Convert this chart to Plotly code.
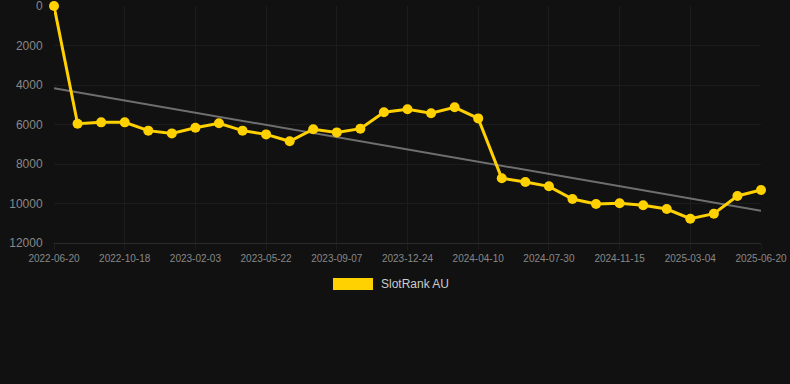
import numpy as np
import plotly.graph_objects as go

dates = [
    "2022-06-20", "2022-08-01", "2022-09-09", "2022-10-18", "2022-11-23", "2022-12-29",
    "2023-02-03", "2023-03-11", "2023-04-16", "2023-05-22", "2023-06-27", "2023-08-02",
    "2023-09-07", "2023-10-13", "2023-11-18", "2023-12-24", "2024-01-29", "2024-03-05",
    "2024-04-10", "2024-05-17", "2024-06-23", "2024-07-30", "2024-09-04", "2024-10-10",
    "2024-11-15", "2024-12-21", "2025-01-27", "2025-03-04", "2025-04-09", "2025-05-15",
    "2025-06-20",
]
rank = [
    0, 5960, 5890, 5890, 6310, 6450, 6160, 5940, 6310, 6500, 6850, 6240, 6400, 6210,
    5380, 5230, 5430, 5130, 5690, 8725, 8910, 9130, 9770, 10025, 9990, 10090, 10280,
    10770, 10515, 9620, 9315,
]
tick_labels = dates[::3]
y_ticks = [0, 2000, 4000, 6000, 8000, 10000, 12000]
y_tick_text = ["0", "2000", "4000", "6000", "8000", "10000", "12000"]
series_name = "SlotRank AU"

idx = np.arange(len(rank))
slope, intercept = np.polyfit(idx, rank, 1)
trend = slope * idx + intercept

yellow = "#FFD100"
fig = go.Figure()
fig.add_trace(go.Scatter(
    x=dates, y=trend, mode="lines",
    line=dict(color="#6f6f6f", width=2), showlegend=False, hoverinfo="skip",
))
fig.add_trace(go.Scatter(
    x=dates, y=rank, mode="lines+markers", name=series_name,
    line=dict(color=yellow, width=3), marker=dict(color=yellow, size=10),
    showlegend=False, cliponaxis=False,
))

L, R, T, B = 54, 761, 6, 243
W, H = 790, 384

def px(x):
    return (x - L) / (R - L)

def py(y):
    return (B - y) / (B - T)

fig.add_shape(type="rect", xref="paper", yref="paper",
              x0=px(333), x1=px(373), y0=py(290), y1=py(278),
              fillcolor=yellow, line=dict(width=0))
fig.add_annotation(xref="paper", yref="paper", x=px(379), y=py(284),
                   text=series_name, showarrow=False, xanchor="left", yanchor="middle",
                   font=dict(family="Liberation Sans, Arial", size=12, color="#cccccc"))

fig.update_layout(
    width=W, height=H,
    margin=dict(l=L, r=W - R, t=T, b=H - B, autoexpand=False),
    paper_bgcolor="#111111", plot_bgcolor="#111111",
    font=dict(family="Liberation Sans, Arial", color="#888888"),
    showlegend=False,
    xaxis=dict(
        type="category", tickmode="array", tickvals=tick_labels, ticktext=tick_labels,
        showgrid=True, gridcolor="#1c1c1c", gridwidth=1,
        showline=True, linecolor="#2a2a2a", linewidth=1,
        ticks="outside", ticklen=6, tickcolor="#1c1c1c",
        tickfont=dict(size=10, color="#888888"),
        range=[0, len(dates) - 1], zeroline=False, ticklabeloverflow="allow",
        automargin=False,
    ),
    yaxis=dict(
        range=[12000, -1], tickmode="array", tickvals=y_ticks, ticktext=y_tick_text,
        showgrid=True, gridcolor="#1c1c1c", gridwidth=1, zeroline=False,
        ticks="outside", ticklen=8, tickcolor="rgba(0,0,0,0)",
        tickfont=dict(size=12, color="#888888"), ticklabeloverflow="allow",
        automargin=False,
    ),
)

fig.write_html(
    "out.html",
    config={"displayModeBar": False},
    post_script="document.body.style.margin='0';document.body.style.background='#111111';",
)
